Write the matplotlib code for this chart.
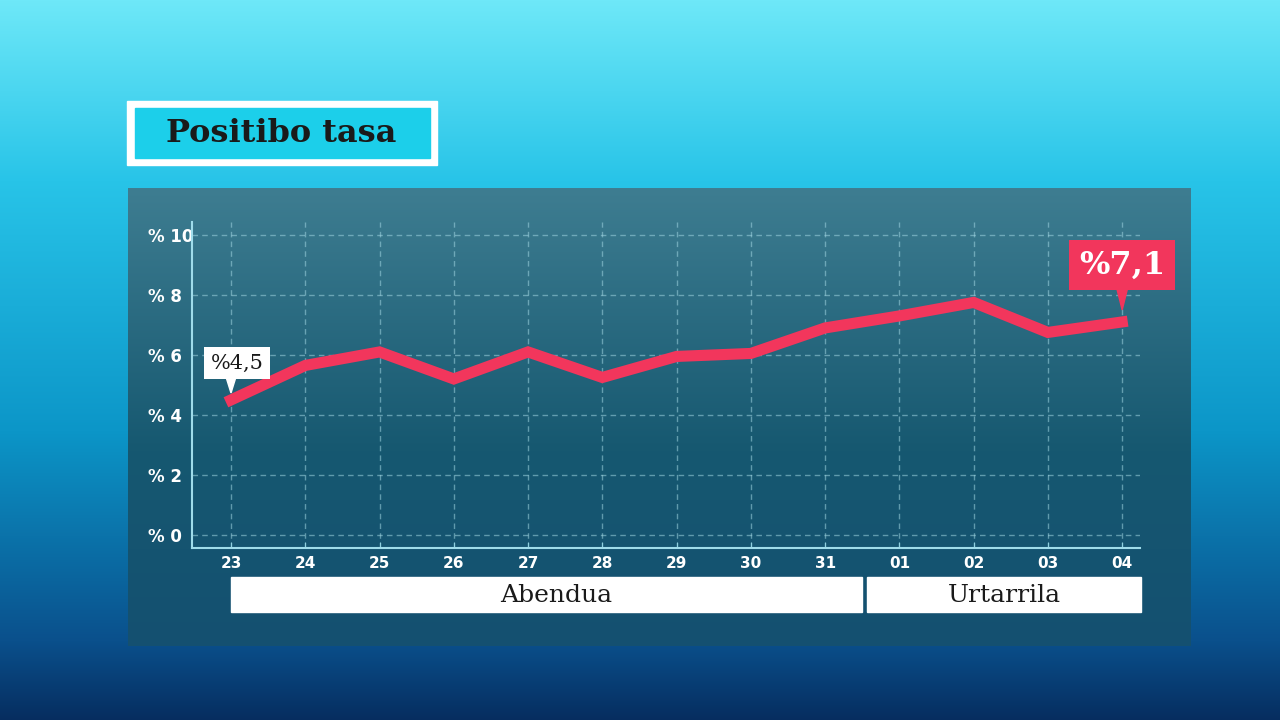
import numpy as np
import matplotlib
matplotlib.use("Agg")
import matplotlib.pyplot as plt
from matplotlib.patches import Rectangle, Polygon

# data
days = ["23", "24", "25", "26", "27", "28", "29", "30", "31", "01", "02", "03", "04"]
rate = [4.5, 5.65, 6.1, 5.2, 6.1, 5.25, 5.95, 6.05, 6.9, 7.3, 7.75, 6.75, 7.1]
months = ["Abendua", "Urtarrila"]
y_ticks = [0, 2, 4, 6, 8, 10]
title = "Positibo tasa"

W, H = 1280, 720
fig = plt.figure(figsize=(W / 100, H / 100), dpi=100)

# background gradient (pixel coords)
bg = fig.add_axes([0, 0, 1, 1])
stops_y = [0, 180, 430, 640, 720]
stops_c = np.array([[110, 232, 248], [40, 196, 232], [12, 150, 200],
                    [10, 80, 140], [6, 45, 95]]) / 255
yy = np.arange(H)
grad = np.stack([np.interp(yy, stops_y, stops_c[:, k]) for k in range(3)], axis=1)
bg.imshow(grad[:, None, :].repeat(2, axis=1), extent=[0, W, H, 0], aspect="auto")

# dark panel
py = np.arange(188, 646)
pan = np.stack([np.interp(py, [188, 450, 646], c) for c in
                ([62 / 255, 22 / 255, 20 / 255], [125 / 255, 88 / 255, 80 / 255],
                 [145 / 255, 112 / 255, 112 / 255])], axis=1)
bg.imshow(pan[:, None, :].repeat(2, axis=1), extent=[128, 1191, 646, 188], aspect="auto")

# title box
bg.add_patch(Rectangle((127, 101), 310, 64, color="white"))
bg.add_patch(Rectangle((135, 108), 295, 50, color="#1ccfea"))
bg.text(281, 133, title, ha="center", va="center", fontsize=23, fontweight="heavy",
        family="DejaVu Serif", color="#1a1a1a")

# month boxes
bg.add_patch(Rectangle((231, 577), 631, 35, color="white"))
bg.add_patch(Rectangle((867, 577), 274, 35, color="white"))
bg.text(556, 595, months[0], ha="center", va="center", fontsize=18, family="DejaVu Serif", color="#1a1a1a")
bg.text(1004, 595, months[1], ha="center", va="center", fontsize=18, family="DejaVu Serif", color="#1a1a1a")
bg.set_xlim(0, W)
bg.set_ylim(H, 0)
bg.axis("off")

# chart axes
ax = fig.add_axes([192 / W, 1 - 548 / H, 948 / W, 326 / H])
ax.patch.set_alpha(0)
x = np.arange(len(days))
ax.plot(x, rate, color="#f2365c", lw=8, solid_joinstyle="miter", zorder=5)
ax.set_xlim(-0.525, 12.24)
ax.set_ylim(-0.433, 10.43)
ax.set_xticks(x)
ax.set_xticklabels(days)
ax.set_yticks(y_ticks)
ax.set_yticklabels(["% " + str(v) for v in y_ticks])
ax.tick_params(axis="both", colors="white", labelsize=11)
ax.tick_params(axis="x", pad=6, length=4, direction="in", color="#8fd0e0")
ax.tick_params(axis="y", pad=32, length=0)
for lab in ax.get_xticklabels() + ax.get_yticklabels():
    lab.set_fontweight("bold")
for lab in ax.get_yticklabels():
    lab.set_fontsize(12)
    lab.set_horizontalalignment("left")
ax.grid(True, color="#9fd4e0", alpha=0.55, ls=(0, (4, 3)), lw=1)
for s in ["top", "right"]:
    ax.spines[s].set_visible(False)
for s in ["left", "bottom"]:
    ax.spines[s].set_color("#9fdcea")
    ax.spines[s].set_linewidth(1.5)

# callouts (offsets in data units: 74.25 px per x step, 30 px per %)
px, py_ = 1 / 74.25, 1 / 30
x0, y0 = x[0], rate[0]
ax.add_patch(Polygon([(x0 - 5 * px, y0 + 23 * py_), (x0 + 5 * px, y0 + 23 * py_), (x0, y0 + 7 * py_)],
                     closed=True, color="white", zorder=6, clip_on=False))
ax.text(x0 + 6 * px, y0 + 37 * py_, "%4,5", ha="center", va="center", fontsize=15, family="DejaVu Serif",
        color="#1a1a1a", zorder=7,
        bbox=dict(boxstyle="square,pad=0.3", fc="white", ec="none"))
x1, y1 = x[-1], rate[-1]
ax.add_patch(Polygon([(x1 - 6 * px, y1 + 36 * py_), (x1 + 6 * px, y1 + 36 * py_), (x1, y1 + 12 * py_)],
                     closed=True, color="#f2365c", zorder=6, clip_on=False))
ax.text(x1, y1 + 57 * py_, "%7,1", ha="center", va="center", fontsize=23, fontweight="bold",
        family="DejaVu Serif", color="white", zorder=7,
        bbox=dict(boxstyle="square,pad=0.3", fc="#f2365c", ec="none"))

fig.savefig("out.png", dpi=100)
